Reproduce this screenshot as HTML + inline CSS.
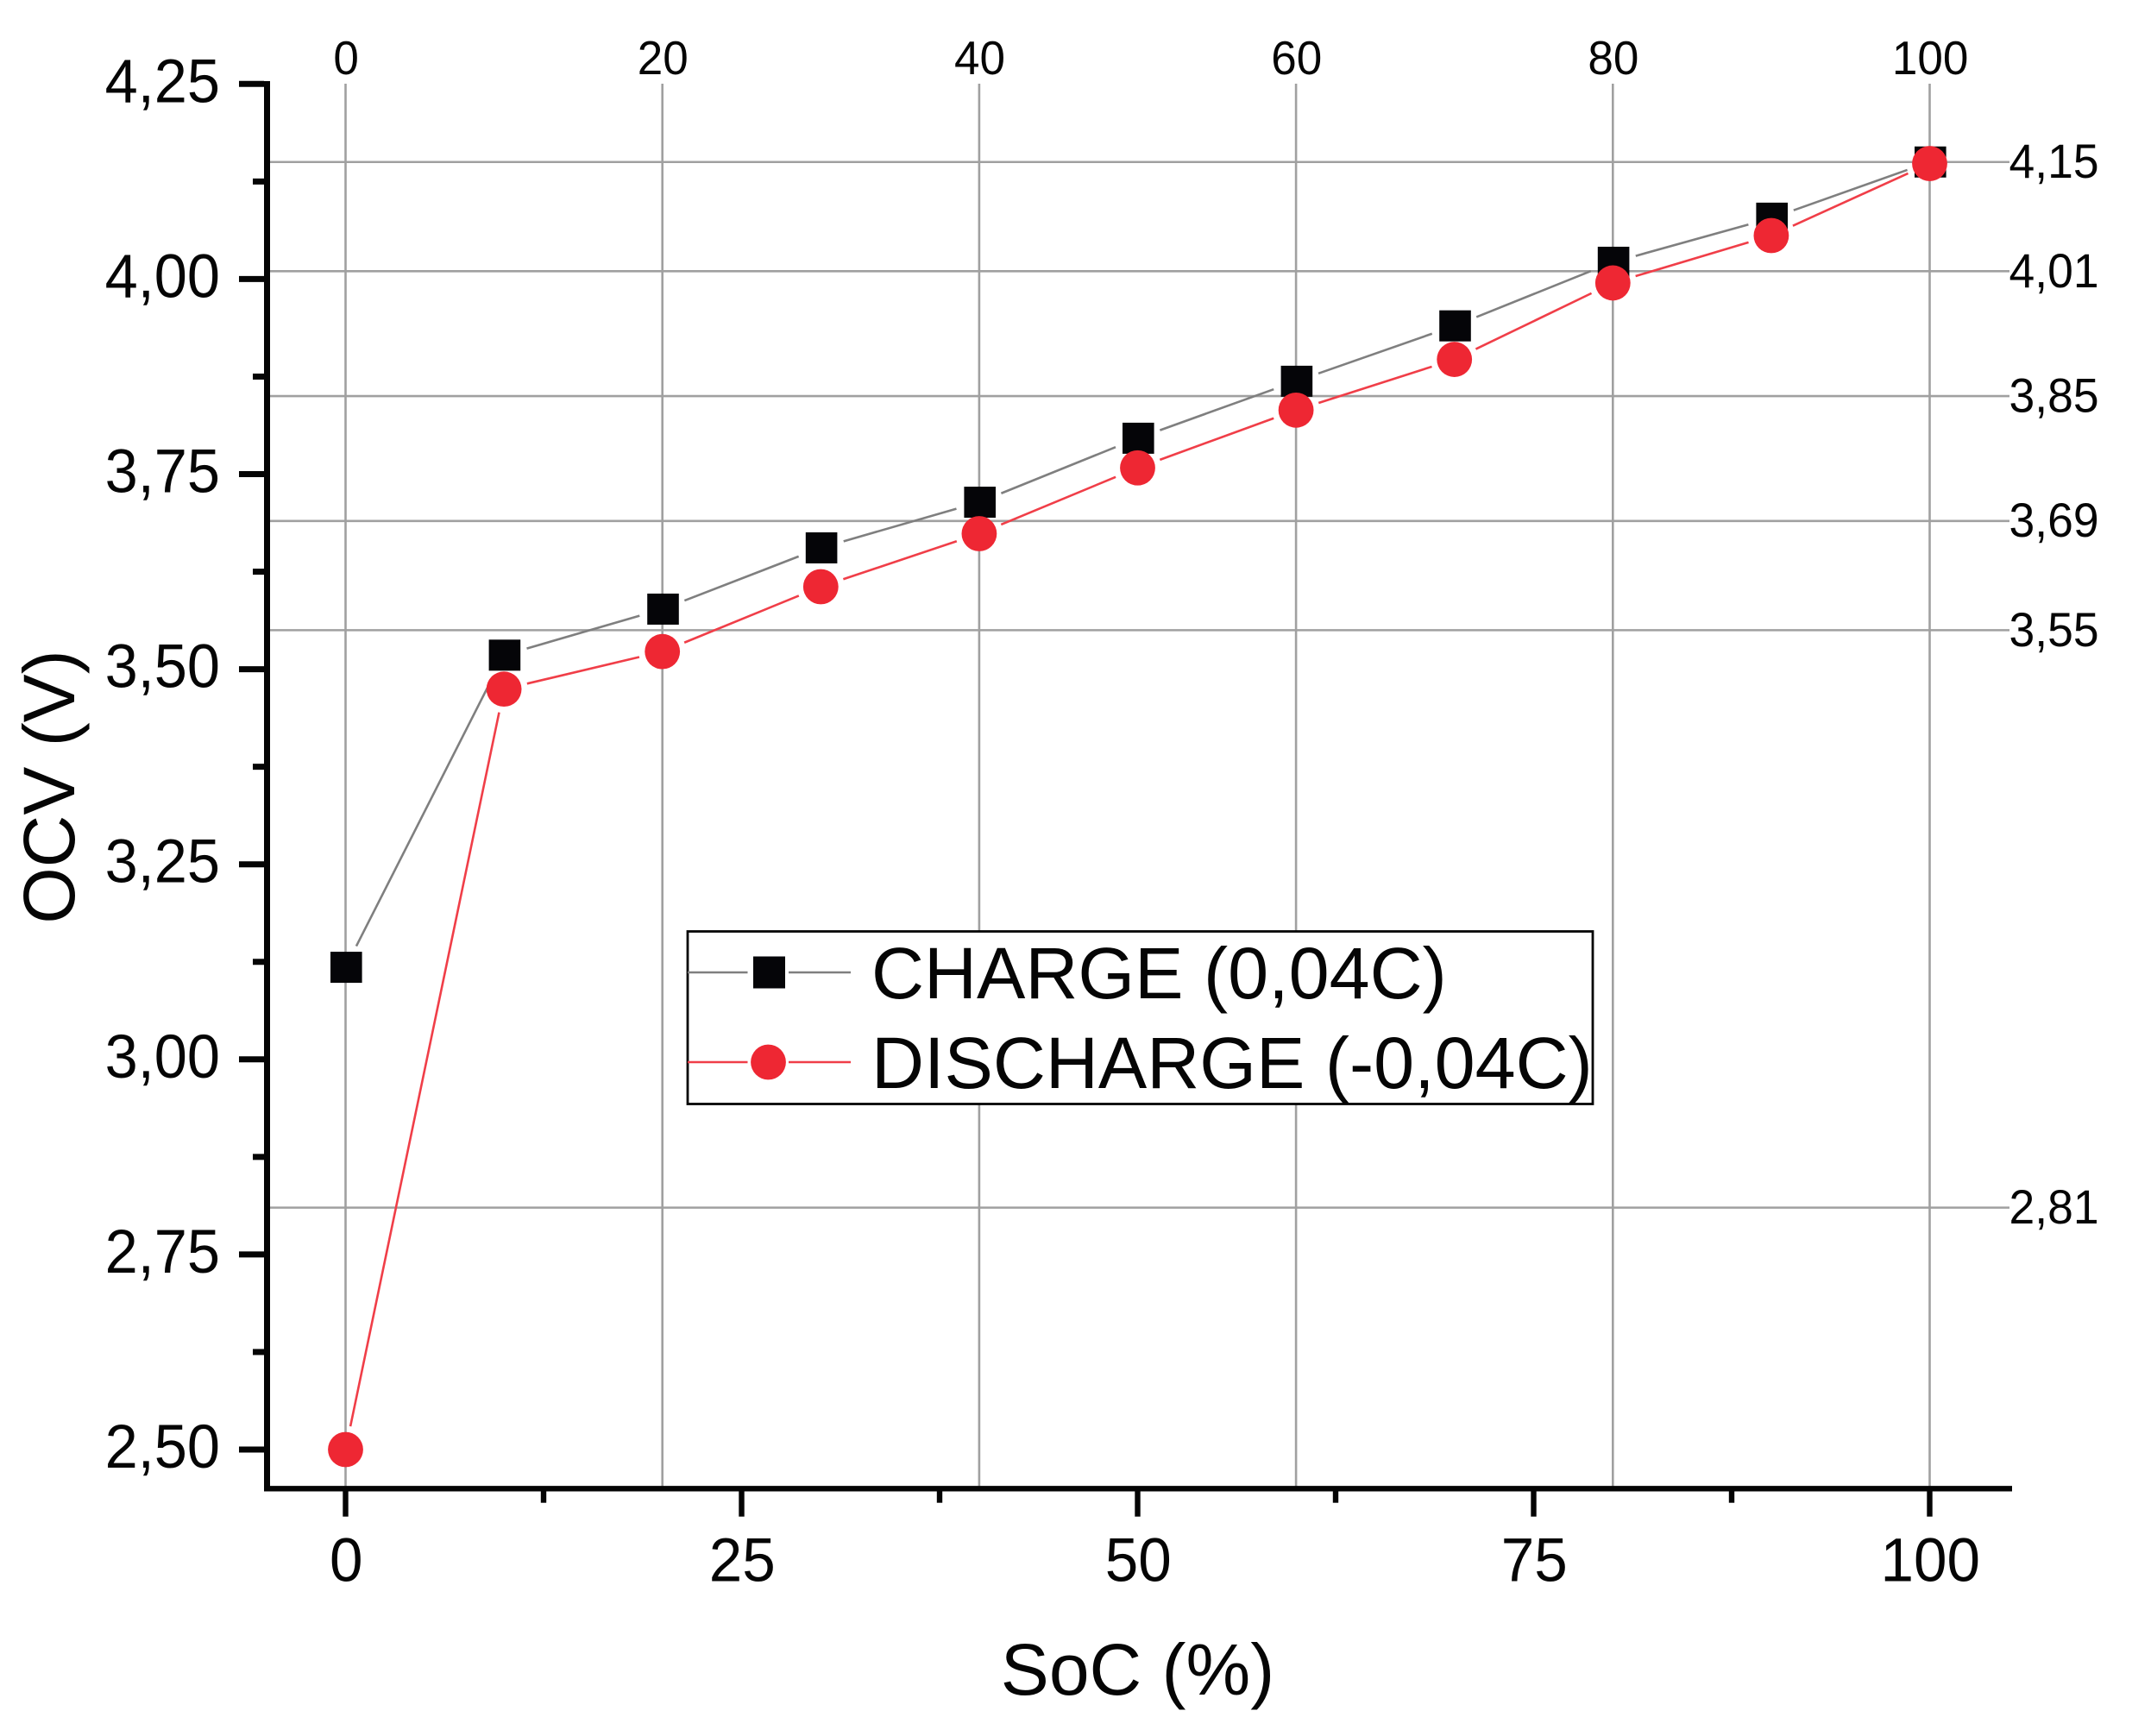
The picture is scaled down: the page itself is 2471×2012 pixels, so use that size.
<!DOCTYPE html>
<html lang="en">
<head>
<meta charset="utf-8">
<title>OCV vs SoC</title>
<style>
html,body{margin:0;padding:0;background:#fff;width:2471px;height:2012px;overflow:hidden}
svg{display:block}
text{font-family:"Liberation Sans",Arial,sans-serif;fill:#050505}
</style>
</head>
<body>
<svg id="chart" xmlns="http://www.w3.org/2000/svg" width="2471" height="2012" viewBox="0 0 2471 2012">
  <rect x="0" y="0" width="2471" height="2012" fill="#ffffff"/>
  <g id="grid"></g>
  <g id="series"></g>
  <g id="axes"></g>
  <text x="1318.5" y="1964" font-size="84" text-anchor="middle">SoC (%)</text>
  <text transform="translate(86 912) rotate(-90)" font-size="84" text-anchor="middle">OCV (V)</text>
  <g id="legend">
    <rect x="797" y="1079.5" width="1049" height="200" fill="#ffffff" stroke="#050505" stroke-width="2.8"/>
    <g>
      <line x1="797" x2="866.5" y1="1127" y2="1127" stroke="#7f7f7f" stroke-width="2.6"/>
      <line x1="914" x2="986" y1="1127" y2="1127" stroke="#7f7f7f" stroke-width="2.6"/>
      <rect x="873" y="1108.5" width="37" height="37" fill="#050508"/>
      <text x="1010" y="1157" font-size="84.5">CHARGE (0,04C)</text>
    </g>
    <g>
      <line x1="797" x2="866.5" y1="1231" y2="1231" stroke="#f03e48" stroke-width="2.6"/>
      <line x1="914" x2="986" y1="1231" y2="1231" stroke="#f03e48" stroke-width="2.6"/>
      <circle cx="890.5" cy="1231" r="20.4" fill="#ee2733"/>
      <text x="1010" y="1261" font-size="84.5">DISCHARGE (-0,04C)</text>
    </g>
  </g>
</svg>
<script>
const soc = [0, 10, 20, 30, 40, 50, 60, 70, 80, 90, 100];
const chargeValues = [3.118, 3.518, 3.577, 3.6555, 3.714, 3.796, 3.869, 3.94, 4.0215, 4.078, 4.15];
const dischargeValues = [2.5, 3.4745, 3.5226, 3.6057, 3.6737, 3.758, 3.832, 3.897, 3.995, 4.0557, 4.148];
const xMajorTicks = [0, 25, 50, 75, 100];
const xMinorTicks = [12.5, 37.5, 62.5, 87.5];
const yMajorTicks = [2.5, 2.75, 3, 3.25, 3.5, 3.75, 4, 4.25];
const yMinorTicks = [2.625, 2.875, 3.125, 3.375, 3.625, 3.875, 4.125];
const topTicks = [0, 20, 40, 60, 80, 100];
const rightTicks = [2.81, 3.55, 3.69, 3.85, 4.01, 4.15];

const NS = 'http://www.w3.org/2000/svg';
function xScale(v) { return 400.5 + (v - 0) * 18.36; }
function yScale(v) { return 1680 - (v - 2.5) * 904.4; }
function fmt(v) { return v.toFixed(2).replace('.', ','); }
function make(tag, attrs, parent) {
  const el = document.createElementNS(NS, tag);
  for (const k in attrs) el.setAttribute(k, attrs[k]);
  parent.appendChild(el);
  return el;
}
function place(x, y, sx) { return 'translate(' + x + ' ' + y + ') scale(' + sx + ' 1)'; }
const gridG = document.getElementById('grid');
const seriesG = document.getElementById('series');
const axesG = document.getElementById('axes');
const GRID = '#a0a0a0';
const AXIS = '#050505';

topTicks.forEach(function (t) {
  const x = xScale(t);
  const line = make('line', {x1: x, x2: x, y1: 97, y2: 1723, stroke: GRID, 'stroke-width': 2.6}, gridG);
  
  
  const label = make('text', {transform: place(x + 0.6, 86, 0.965), 'font-size': 55, 'text-anchor': 'middle'}, gridG);
  label.textContent = String(t);
  
  
});
rightTicks.forEach(function (t) {
  const y = yScale(t);
  const line = make('line', {x1: 312, x2: 2329, y1: y, y2: y, stroke: GRID, 'stroke-width': 2.6}, gridG);
  
  
  const label = make('text', {transform: place(2328.5, y + 18.4, 0.955), 'font-size': 56}, gridG);
  label.textContent = fmt(t);
  
  
});

function drawSegments(values, color, name) {
  const GAP = 27.5;
  for (let i = 0; i < values.length - 1; i++) {
    const x1 = xScale(soc[i]), y1 = yScale(values[i]);
    const x2 = xScale(soc[i + 1]), y2 = yScale(values[i + 1]);
    const len = Math.hypot(x2 - x1, y2 - y1);
    const ux = (x2 - x1) / len, uy = (y2 - y1) / len;
    const seg = make('line', {
      x1: x1 + ux * GAP, y1: y1 + uy * GAP,
      x2: x2 - ux * GAP, y2: y2 - uy * GAP,
      stroke: color, 'stroke-width': 2.6
    }, seriesG);
    
    
  }
}
drawSegments(chargeValues, '#7f7f7f', 'charge');
drawSegments(dischargeValues, '#f03e48', 'discharge');

chargeValues.forEach(function (v, i) {
  const cx = xScale(soc[i]) + 0.8, cy = yScale(v);
  const m = make('rect', {x: cx - 18.3, y: cy - 18, width: 36.6, height: 36, fill: '#050508'}, seriesG);
  
  
});
dischargeValues.forEach(function (v, i) {
  const m = make('circle', {cx: xScale(soc[i]), cy: yScale(v), r: 20.4, fill: '#ee2733'}, seriesG);
  
  
});

const yAxisLine = make('line', {x1: 309.5, x2: 309.5, y1: 94, y2: 1728.5, stroke: AXIS, 'stroke-width': 7}, axesG);


const xAxisLine = make('line', {x1: 306, x2: 2332, y1: 1725.3, y2: 1725.3, stroke: AXIS, 'stroke-width': 6.4}, axesG);



yMajorTicks.forEach(function (t) {
  const y = yScale(t);
  const tick = make('line', {x1: 277, x2: 306, y1: y, y2: y, stroke: AXIS, 'stroke-width': 7}, axesG);
  
  
  const label = make('text', {transform: place(255, y + 21, 0.965), 'font-size': 71, 'text-anchor': 'end'}, axesG);
  label.textContent = fmt(t);
  
  
});
yMinorTicks.forEach(function (t) {
  const y = yScale(t);
  const tick = make('line', {x1: 293, x2: 306, y1: y, y2: y, stroke: AXIS, 'stroke-width': 7}, axesG);
  
  
});
xMajorTicks.forEach(function (t) {
  const x = xScale(t);
  const tick = make('line', {x1: x, x2: x, y1: 1728, y2: 1757.7, stroke: AXIS, 'stroke-width': 6.4}, axesG);
  
  
  const label = make('text', {transform: place(x + 0.8, 1832.5, 0.975), 'font-size': 71, 'text-anchor': 'middle'}, axesG);
  label.textContent = String(t);
  
  
});
xMinorTicks.forEach(function (t) {
  const x = xScale(t);
  const tick = make('line', {x1: x, x2: x, y1: 1728, y2: 1741.7, stroke: AXIS, 'stroke-width': 6.4}, axesG);
  
  
});
</script>
</body>
</html>
